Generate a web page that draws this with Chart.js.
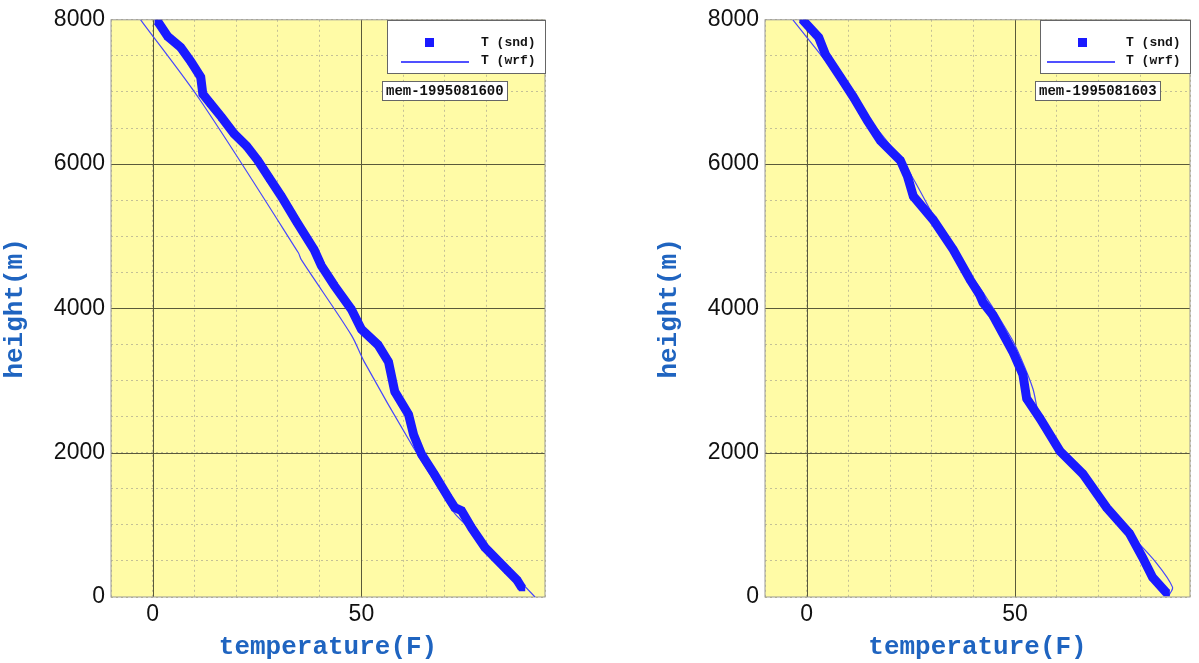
<!DOCTYPE html>
<html>
<head>
<meta charset="utf-8">
<script src="https://cdn.jsdelivr.net/npm/chart.js@4"></script>
<style>
  body { margin: 0; background: #fff; width: 1199px; height: 663px; overflow: hidden; position: relative; }
  .box { position: absolute; width: 555px; height: 663px; }
  .legend { position: absolute; background: #fff; border: 1px solid #666; font: bold 13px "Liberation Mono", monospace; color: #111; }
  .tag { position: absolute; background: #fff; border: 1px solid #666; font: bold 14px "Liberation Mono", monospace; color: #111; padding: 1px 3px; }
  .row { position: absolute; white-space: pre; }
  .swl { position: absolute; width: 68px; height: 2px; background: #5050ff; }
  .sws { position: absolute; width: 9px; height: 9px; background: #1a1aff; }
</style>
</head>
<body>
<div class="box" id="b1" style="left:0px;"><canvas id="c1"></canvas></div>
<div class="box" id="b2" style="left:654px;width:545px;"><canvas id="c2"></canvas></div>

<div class="legend" style="left:387px;top:20px;width:157px;height:52px;">
  <div class="sws" style="left:37px;top:17px;"></div>
  <div class="row" style="left:93px;top:14px;">T (snd)</div>
  <div class="swl" style="left:13px;top:40px;"></div>
  <div class="row" style="left:93px;top:32px;">T (wrf)</div>
</div>
<div class="tag" style="left:382px;top:81px;">mem-1995081600</div>

<div class="legend" style="left:1040px;top:20px;width:149px;height:52px;">
  <div class="sws" style="left:37px;top:17px;"></div>
  <div class="row" style="left:85px;top:14px;">T (snd)</div>
  <div class="swl" style="left:6px;top:40px;"></div>
  <div class="row" style="left:85px;top:32px;">T (wrf)</div>
</div>
<div class="tag" style="left:1035px;top:81px;">mem-1995081603</div>

<script>
// left panel (1995081600): sounding
const snd1T = [88.5, 87.3, 85, 79.6, 76.4, 74, 72.4, 70.9, 67.5, 64.4, 62.5, 61.3, 58, 56.5, 54, 50, 47.6, 43.5, 40.4, 38.7, 34.5, 30.8, 28, 25.2, 22.5, 19.5, 16.5, 13.9, 12, 11.5, 9.1, 6.7, 3.6, 1.2];
const snd1H = [124, 234, 370, 688, 960, 1196, 1238, 1375, 1700, 1980, 2250, 2530, 2846, 3259, 3493, 3712, 3987, 4317, 4592, 4812, 5200, 5555, 5800, 6050, 6250, 6421, 6650, 6834, 6971, 7205, 7425, 7617, 7769, 7975];
const wrf1T = [91.6, 76.4, 72.4, 70.9, 62, 50.7, 47.6, 35.6, 34.9, 11.5, -2.9];
const wrf1H = [0, 921, 1155, 1292, 2117, 3259, 3630, 4675, 4771, 6875, 8000];

// right panel (1995081603)
const snd2T = [86.4, 83, 80.6, 77.5, 72, 66.3, 60.8, 56, 52.8, 51.9, 49.5, 44.7, 42.3, 41.6, 39.2, 35.2, 30.4, 25.6, 24.2, 22.5, 17.7, 14.6, 11.2, 8.1, 4.5, 2.9, -1];
const snd2H = [55, 275, 550, 880, 1238, 1705, 2021, 2475, 2750, 3080, 3396, 3905, 4084, 4180, 4400, 4812, 5225, 5555, 5830, 6050, 6325, 6600, 6930, 7205, 7521, 7755, 8000];
const wrf2T = [87, 87.8, 84, 77.5, 72, 66.3, 60.8, 56, 54.3, 51.5, 49, 42, 35, 24, 14, 7, -3.3];
const wrf2H = [27, 137, 467, 880, 1238, 1705, 2021, 2475, 2887, 3300, 3600, 4250, 4800, 5950, 6700, 7250, 8000];

const xMajor = [0, 50];
const yMajor = [2000, 4000, 6000];

const pts = (xs, ys) => xs.map((x, i) => ({ x: x, y: ys[i] }));

const panelPlugin = {
  id: 'panel',
  beforeDraw(chart) {
    const a = chart.chartArea, ctx = chart.ctx;
    ctx.save();
    ctx.fillStyle = '#fffba6';
    ctx.fillRect(a.left, a.top, a.right - a.left, a.bottom - a.top);
    ctx.restore();
  },
  beforeDatasetsDraw(chart) {
    const a = chart.chartArea, ctx = chart.ctx;
    const xs = chart.scales.x, ys = chart.scales.y;
    ctx.save();
    ctx.strokeStyle = '#5a5a3a';
    ctx.lineWidth = 1;
    xMajor.forEach(v => {
      const p = Math.round(xs.getPixelForValue(v)) + 0.5;
      ctx.beginPath(); ctx.moveTo(p, a.top); ctx.lineTo(p, a.bottom); ctx.stroke();
    });
    yMajor.forEach(v => {
      const p = Math.round(ys.getPixelForValue(v)) + 0.5;
      ctx.beginPath(); ctx.moveTo(a.left, p); ctx.lineTo(a.right, p); ctx.stroke();
    });
    ctx.strokeStyle = '#999';
    ctx.strokeRect(a.left, a.top, a.right - a.left, a.bottom - a.top);
    ctx.restore();
  }
};

function makeChart(id, sT, sH, wT, wH, xMax, padRight) {
  const ctx = document.getElementById(id).getContext('2d');
  new Chart(ctx, {
    type: 'scatter',
    data: {
      datasets: [{
        label: 'T (snd)',
        data: pts(sT, sH),
        showLine: true,
        borderColor: '#1a1aff',
        borderWidth: 9,
        backgroundColor: '#1a1aff',
        pointStyle: 'rect',
        pointRadius: 4.5,
        pointBorderWidth: 0
      }, {
        label: 'T (wrf)',
        data: pts(wT, wH),
        showLine: true,
        borderColor: '#4646ff',
        borderWidth: 1.2,
        pointRadius: 0,
        tension: 0.3
      }]
    },
    options: {
      responsive: true,
      maintainAspectRatio: false,
      animation: false,
      layout: { padding: { top: 15, right: padRight, left: 0, bottom: 0 } },
      plugins: { legend: { display: false }, tooltip: { enabled: false } },
      scales: {
        x: {
          type: 'linear', min: -10, max: xMax,
          afterFit: s => { s.height = 66; },
          ticks: {
            stepSize: 10, color: '#111', padding: 4,
            font: { family: 'Liberation Sans', size: 23 },
            callback: v => (v % 50 === 0 ? v : '')
          },
          grid: { color: '#c4c096', drawTicks: false },
          border: { dash: [2, 3], display: false },
          title: {
            display: true, text: 'temperature(F)', color: '#1f64c0', padding: 0,
            font: { family: 'Liberation Mono', size: 26, weight: 'bold' }
          }
        },
        y: {
          type: 'linear', min: 0, max: 8000,
          afterFit: s => { s.width = 111; },
          ticks: {
            stepSize: 500, color: '#111', padding: 6,
            font: { family: 'Liberation Sans', size: 23 },
            callback: v => (v % 2000 === 0 ? v : '')
          },
          grid: { color: '#c4c096', drawTicks: false },
          border: { dash: [2, 3], display: false },
          title: {
            display: true, text: 'height(m)', color: '#1f64c0', padding: 0,
            font: { family: 'Liberation Mono', size: 26, weight: 'bold' }
          }
        }
      }
    },
    plugins: [panelPlugin]
  });
}

makeChart('c1', snd1T, snd1H, wrf1T, wrf1H, 94, 10);
makeChart('c2', snd2T, snd2H, wrf2T, wrf2H, 92, 9);
</script>
</body>
</html>
